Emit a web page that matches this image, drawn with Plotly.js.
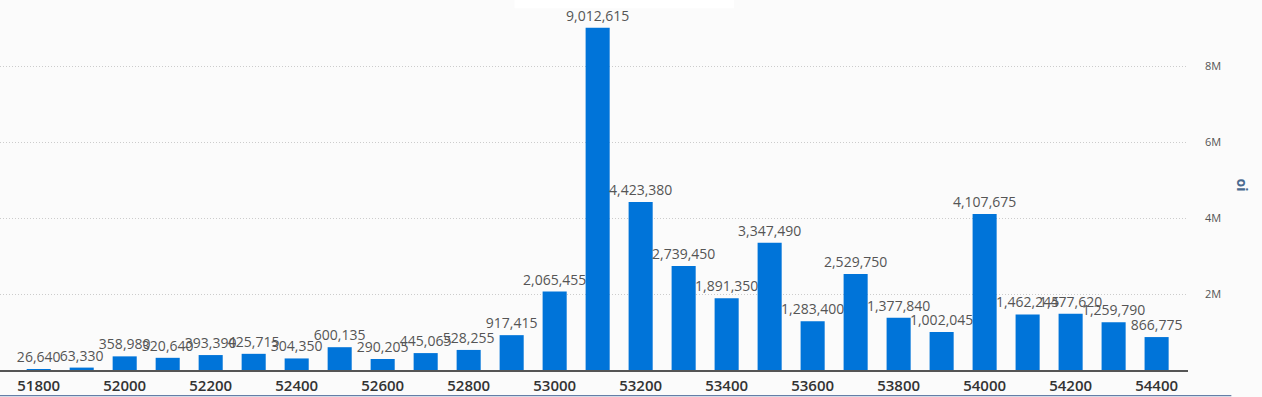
<!DOCTYPE html>
<html><head><meta charset="utf-8">
<script src="https://cdn.plot.ly/plotly-3.0.1.min.js"></script>
<style>html,body{margin:0;padding:0;background:#fbfbfb;}#c{width:1262px;height:397px;}</style>
</head><body><div id="c"></div>
<script>
const strikes = [51800,51900,52000,52100,52200,52300,52400,52500,52600,52700,52800,52900,53000,53100,53200,53300,53400,53500,53600,53700,53800,53900,54000,54100,54200,54300,54400];
const oi = [26640,63330,358980,320640,393390,425715,304350,600135,290205,445065,528255,917415,2065455,9012615,4423380,2739450,1891350,3347490,1283400,2529750,1377840,1002045,4107675,1462245,1477620,1259790,866775];
const xTicks = [51800,52000,52200,52400,52600,52800,53000,53200,53400,53600,53800,54000,54200,54400];
const yTicks = [2000000,4000000,6000000,8000000];
const yTickText = ['2M','4M','6M','8M'];

const fmt = v => v.toLocaleString('en-US');

Plotly.newPlot('c', [{
  type:'bar', x:strikes, y:oi,
  text: oi.map(fmt), textposition:'outside', constraintext:'none', cliponaxis:false,
  textfont:{family:'Open Sans', size:14, color:'#555'},
  marker:{color:'#0074d9'}, hoverinfo:'none'
}], {
  width:1262, height:397,
  paper_bgcolor:'#fbfbfb', plot_bgcolor:'#fbfbfb',
  margin:{l:0, r:74, t:0, b:27},
  bargap:0.44, showlegend:false,
  xaxis:{range:[51710,54473], tickvals:xTicks, ticktext:xTicks.map(String),
    tickfont:{family:'Open Sans', size:15, color:'#333', weight:600},
    showline:true, linecolor:'#555', linewidth:2, showgrid:false, zeroline:false, ticks:'', ticklabelstandoff:1},
  yaxis:{side:'right', range:[0,9740000], tickvals:yTicks, ticktext:yTickText,
    tickfont:{family:'Open Sans', size:11, color:'#555'},
    showgrid:true, gridcolor:'#cccccc', griddash:'1px,2px', gridwidth:1, zeroline:false, showline:false,
    ticks:'', ticklabelstandoff:16},
  annotations:[{text:'oi', xref:'paper', yref:'paper', x:1, y:0.5, xshift:66, textangle:90,
    showarrow:false, font:{family:'Open Sans', size:14, color:'#4a6a90', weight:700}}],
  shapes:[
    {type:'rect', xref:'paper', yref:'paper', x0:0.433, x1:0.618, y0:0.978, y1:1.08, fillcolor:'#ffffff', line:{width:0}, layer:'below'},
    {type:'line', xref:'paper', yref:'paper', x0:-0.01, x1:1.0365, y0:-0.0695, y1:-0.0695, line:{color:'#3f5f92', width:1}}
  ]
}, {displayModeBar:false, staticPlot:true});
</script></body></html>
